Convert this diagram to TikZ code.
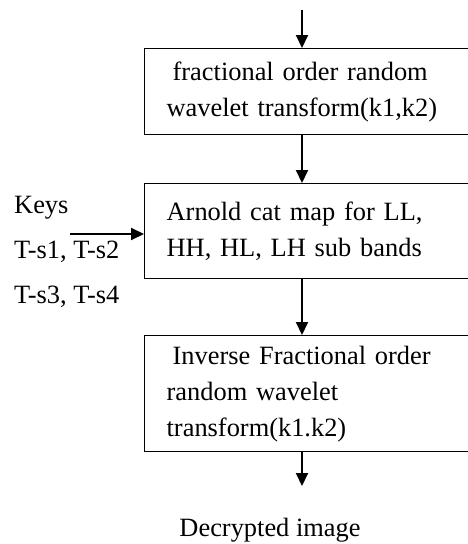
\documentclass[tikz,border=0pt]{standalone}
\usepackage{fontspec}
\setmainfont{Liberation Serif}
\usetikzlibrary{arrows.meta,positioning}
\begin{document}
\begin{tikzpicture}[x=1pt,y=-1pt,
  every node/.style={font=\fontsize{26.4}{36}\selectfont},
  stage/.style={draw,line width=1.3pt,anchor=north west,align=left,
    text width=432pt,inner xsep=22pt,inner ysep=0pt},
  flow/.style={line width=2pt,-{Triangle[length=13pt,width=12pt]}}]
  \useasboundingbox (0,0) rectangle (468,544);
  \clip (0,0) rectangle (468,544);
  \def\ax{302}
  % stages
  \node[stage,minimum height=86pt] (frwt) at (144,48)
    {\hspace{6pt}fractional order random\\wavelet transform(k1,k2)};
  \node[stage,minimum height=95pt] (acm) at (144,183)
    {Arnold cat map for LL,\\HH, HL, LH sub bands};
  \node[stage,minimum height=116pt] (ifrwt) at (144,335)
    {\hspace{6pt}Inverse Fractional order\\random wavelet\\transform(k1.k2)};
  % input, keys and output
  \coordinate (in) at (\ax,10);
  \node[anchor=north west,align=left,inner sep=0pt,
    font=\fontsize{26.4}{45}\selectfont] (keys) at (14,196)
    {Keys\\T-s1, T-s2\\T-s3, T-s4};
  \coordinate (kin) at (70,234);
  \coordinate (out) at (\ax,486);
  \node (dec) at (270,530) {Decrypted image};
  % arrows
  \draw[flow] (in) -- (frwt.north -| in);
  \draw[flow] (frwt.south -| in) -- (acm.north -| in);
  \draw[flow] (acm.south -| in) -- (ifrwt.north -| in);
  \draw[flow] (ifrwt.south -| in) -- (out);
  \draw[flow] (kin) -- (kin -| acm.west);
\end{tikzpicture}
\end{document}
